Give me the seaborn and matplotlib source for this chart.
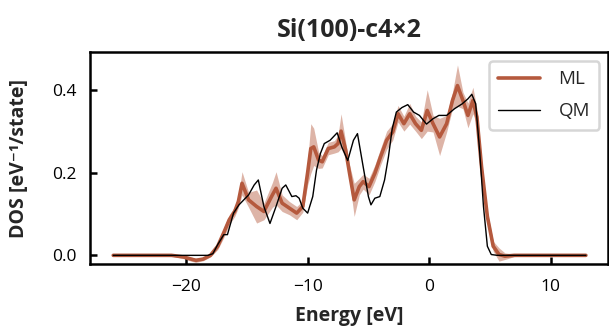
import numpy as np
import pandas as pd
import matplotlib
matplotlib.use("Agg")
import matplotlib.pyplot as plt
import seaborn as sns

# ---- data ----
ml_energy = [-26.0, -23.0, -21.2, -20.2, -19.6, -19.2, -18.6, -18.0, -17.4, -16.9, -16.45, -16.0,
             -15.7, -15.4, -14.86, -14.2, -13.6, -12.9, -12.6, -12.1, -11.5, -10.9, -10.4,
             -10.0, -9.74, -9.5, -9.1, -8.8, -8.3, -7.8, -7.5, -7.25, -6.87, -6.55, -6.17,
             -5.75, -5.43, -4.95, -4.47, -4.0, -3.5, -3.0, -2.56, -2.08, -1.6, -1.12, -0.64,
             -0.16, 0.32, 0.86, 1.44, 1.92, 2.33, 2.78, 3.19, 3.6, 3.93, 4.31, 4.79, 5.27,
             5.75, 6.23, 7.0, 9.0, 12.9]
ml_dos = [0.0, 0.0, 0.0, -0.004, -0.009, -0.012, -0.009, 0.0, 0.022, 0.055, 0.086, 0.106,
          0.13, 0.174, 0.134, 0.118, 0.106, 0.146, 0.162, 0.126, 0.114, 0.102, 0.118,
          0.2, 0.258, 0.262, 0.23, 0.226, 0.258, 0.262, 0.27, 0.30, 0.254, 0.198, 0.134,
          0.166, 0.178, 0.166, 0.198, 0.238, 0.278, 0.298, 0.342, 0.318, 0.342, 0.318, 0.302,
          0.35, 0.318, 0.286, 0.318, 0.374, 0.41, 0.374, 0.338, 0.374, 0.334, 0.214, 0.094, 0.022,
          0.002, -0.002, 0.0, 0.0, 0.0]
ml_err = [0.001, 0.001, 0.002, 0.004, 0.005, 0.005, 0.004, 0.004, 0.008, 0.012, 0.012, 0.012,
          0.015, 0.028, 0.018, 0.04, 0.02, 0.03, 0.04, 0.02, 0.016, 0.016, 0.014,
          0.03, 0.06, 0.045, 0.02, 0.015, 0.015, 0.015, 0.02, 0.042, 0.02, 0.02, 0.04,
          0.02, 0.018, 0.02, 0.02, 0.02, 0.022, 0.02, 0.02, 0.018, 0.025, 0.018, 0.02,
          0.05, 0.02, 0.045, 0.02, 0.02, 0.05, 0.02, 0.03, 0.032, 0.02, 0.015, 0.012, 0.012,
          0.016, 0.008, 0.003, 0.001, 0.001]

qm_energy = [-26.0, -20.0, -18.2, -17.8, -17.4, -16.9, -16.6, -16.1, -15.65, -14.86, -14.4,
             -14.06, -13.6, -13.1, -12.6, -12.1, -11.8, -11.3, -10.96, -10.7, -10.4, -10.0,
             -9.58, -9.27, -8.95, -8.63, -8.15, -7.57, -7.19, -6.7, -6.23, -5.9, -5.43, -5.0,
             -4.79, -4.47, -4.06, -3.67, -3.35, -3.04, -2.7, -2.24, -1.76, -1.28, -0.8, -0.22,
             0.32, 0.8, 1.44, 2.08, 2.72, 3.19, 3.51, 3.83, 4.15, 4.47, 4.79, 5.11, 5.6, 12.9]
qm_dos = [0.0, 0.0, 0.0, 0.004, 0.026, 0.05, 0.05, 0.102, 0.122, 0.146, 0.17,
          0.182, 0.118, 0.077, 0.118, 0.162, 0.17, 0.142, 0.144, 0.138, 0.114, 0.102,
          0.142, 0.206, 0.246, 0.27, 0.278, 0.296, 0.262, 0.229, 0.278, 0.294, 0.214, 0.142,
          0.122, 0.138, 0.142, 0.182, 0.238, 0.306, 0.346, 0.357, 0.364, 0.346, 0.338, 0.317,
          0.33, 0.338, 0.338, 0.354, 0.366, 0.378, 0.389, 0.366, 0.254, 0.118, 0.022, 0.002, 0.0, 0.0]

title = "Si(100)-c4×2"
xlabel = "Energy [eV]"
ylabel = "DOS [eV⁻¹/state]"
xticks = [-20, -10, 0, 10]
yticks = [0.0, 0.2, 0.4]

ml = pd.DataFrame({"energy": ml_energy, "dos": ml_dos, "err": ml_err})
qm = pd.DataFrame({"energy": qm_energy, "dos": qm_dos})

# ---- style ----
sns.set_style("ticks")
plt.rcParams["font.family"] = ["Open Sans", "DejaVu Sans"]

ML_COLOR = "#b5593d"

fig = plt.figure(figsize=(6.09, 3.28), dpi=100)
ax = fig.add_axes([0.148, 0.195, 0.850, 0.645])

ax.fill_between(ml["energy"], ml["dos"] - ml["err"], ml["dos"] + ml["err"],
                color=ML_COLOR, alpha=0.45, linewidth=0)
sns.lineplot(data=ml, x="energy", y="dos", ax=ax, color=ML_COLOR, linewidth=2.6, label="ML")
sns.lineplot(data=qm, x="energy", y="dos", ax=ax, color="black", linewidth=1.0, label="QM")

ax.set_xlim(-27.9, 14.7)
ax.set_ylim(-0.021, 0.49)
ax.set_xticks(xticks)
ax.set_yticks(yticks)
ax.set_yticklabels([f"{v:.1f}" for v in yticks])
ax.set_xticklabels(["\u2212" + str(abs(v)) if v < 0 else str(v) for v in xticks])

for s in ax.spines.values():
    s.set_visible(True)
    s.set_linewidth(1.8)
    s.set_color("black")
ax.tick_params(direction="in", length=5, width=1.8, labelsize=12.5, colors="black")
ax.tick_params(axis="x", pad=11)
ax.tick_params(axis="y", pad=10)

ax.set_xlabel(xlabel, fontsize=14, fontweight="bold")
ax.set_ylabel(ylabel, fontsize=14, fontweight="bold")
ax.xaxis.set_label_coords(0.5, -0.2)
ax.yaxis.set_label_coords(-0.118, 0.5)
ax.set_title(title, fontsize=18, fontweight="bold", pad=11)

leg = ax.legend(loc="upper right", fontsize=13.5, frameon=True, fancybox=True,
                borderpad=0.5, handlelength=2.2, handletextpad=1.0, borderaxespad=0.45,
                labelspacing=0.75)
leg.get_frame().set_edgecolor("#cccccc")
leg.get_frame().set_linewidth(1.8)

fig.savefig("out.png", dpi=100)
